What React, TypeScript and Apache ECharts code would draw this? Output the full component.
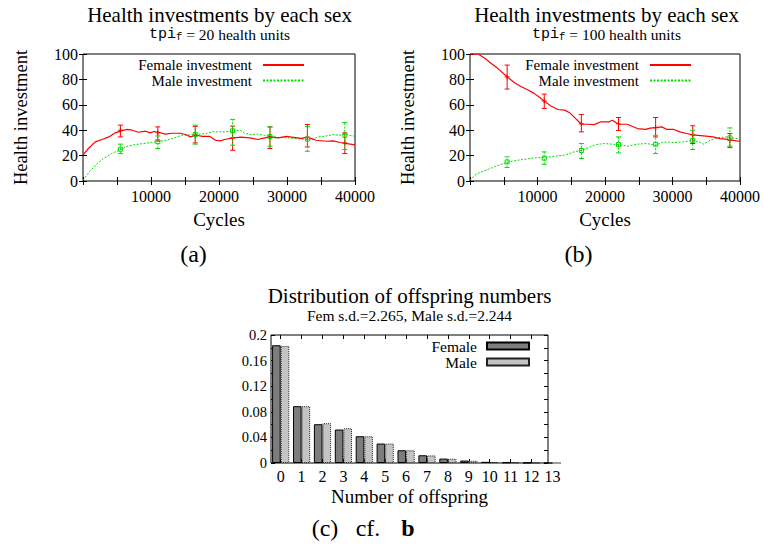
import React, { useEffect, useRef } from 'react';
import * as echarts from 'echarts';

// ---------- data ----------
const femaleA: [number, number][] = [
  [0, 20.3], [800, 25.6], [1800, 30.8], [2800, 32.7], [3800, 34.7], [4750, 37.9], [5600, 39.5], [6500, 40.6],
  [7200, 40], [8200, 38.4], [9200, 39.2], [9900, 37.9], [10400, 39], [11100, 38.4], [12100, 36.9], [13100, 37.6],
  [14300, 37.6], [15100, 36.6], [15800, 34.7], [16600, 36], [17600, 35.2], [18600, 35.2], [19500, 32.1], [20200, 31.6],
  [20800, 32.7], [22100, 34], [23300, 34.5], [24800, 33.7], [25700, 32.7], [26700, 34], [27500, 34.7], [28700, 34],
  [29900, 35.2], [31200, 34.2], [32100, 33.5], [33000, 34.5], [34300, 32.1], [35800, 31.3], [36800, 31.6],
  [37800, 30.3], [38800, 29.5], [39800, 28.7], [40000, 28.2],
];
const maleA: [number, number][] = [
  [0, 0.5], [1000, 7.7], [2000, 13.2], [3000, 17.7], [4200, 21.6], [5600, 25], [6500, 27.4], [7700, 28.7],
  [8900, 29.5], [10100, 30.5], [11100, 31.1], [12300, 32.1], [13300, 33.7], [14500, 36], [16600, 36.6], [18100, 37.4],
  [19100, 38.7], [20200, 38.7], [21000, 38.7], [22100, 39.5], [23100, 40], [23800, 37.4], [24800, 36.6], [25700, 36.9],
  [26700, 36], [27500, 35.2], [28900, 34.2], [30100, 34], [31600, 33.2], [33000, 32.7], [33800, 32.7], [34500, 34.7],
  [35500, 35.2], [36800, 36.6], [37800, 36], [38600, 36.9], [39600, 35.4], [40000, 35.4],
];
const femaleB: [number, number][] = [
  [0, 100], [1200, 100], [2200, 96.6], [3100, 92.7], [4100, 88.7], [5500, 82.1], [6600, 77.4], [7600, 74.2],
  [8600, 71.6], [9500, 69], [10200, 66.3], [11000, 62.9], [12000, 59], [13000, 56.3], [14000, 55.8], [14700, 54],
  [15400, 50.5], [16500, 44.7], [17400, 44.7], [18400, 44.4], [19400, 46.6], [20600, 46.6], [21100, 47.9],
  [21600, 46.1], [22100, 44.7], [23300, 44.7], [24800, 41.3], [26000, 40.6], [26700, 41.6], [27500, 42.1],
  [28400, 42.6], [29200, 40.6], [30200, 40.6], [31100, 38.7], [32100, 37.4], [33000, 36.3], [34600, 35.5],
  [36000, 34.7], [37000, 33.4], [38200, 32.7], [39500, 31.6], [40000, 31.3],
];
const maleB: [number, number][] = [
  [0, 0.5], [700, 4.5], [1600, 7.1], [2600, 9], [3600, 11.1], [4500, 12.9], [5500, 14.8], [7000, 16.3],
  [8500, 17.4], [10000, 18.4], [11000, 18.4], [12500, 19.5], [14000, 20.3], [15400, 22.9], [16500, 24.2],
  [17800, 26.8], [18700, 28.7], [19900, 29.5], [21100, 29], [22100, 28.7], [23300, 27.4], [24800, 29],
  [26200, 29.5], [27500, 28.2], [28700, 30.8], [30200, 30.3], [31600, 30.8], [33000, 32.1], [33900, 30.8],
  [34600, 29], [35600, 32.1], [36600, 34], [38100, 34.7], [38600, 34], [39600, 33.4], [40000, 32.1],
];

const errCycles = [5500, 11000, 16500, 22000, 27500, 33000, 38500];
const femaleAMean = [40, 38, 36, 34, 34.7, 34.5, 30];
const femaleALow = [34.7, 31.6, 30, 24.2, 25.6, 26.8, 21.6];
const femaleAHigh = [44, 42.6, 43, 43.2, 42.6, 44.5, 37.9];
const maleAMean = [25, 31, 36.6, 39.5, 35, 33, 36];
const maleALow = [21.6, 25.6, 29, 28.2, 27.4, 23.4, 24.8];
const maleAHigh = [29, 35.5, 44, 48.5, 42.6, 43, 46];
const femaleBMean = [82, 63, 45, 45, 42, 36.3, 32];
const femaleBLow = [72.4, 57.1, 38.7, 39.8, 34.7, 29.5, 26.3];
const femaleBHigh = [91.3, 68.4, 52.4, 50, 50, 43.5, 37.4];
const maleBMean = [15, 18, 24, 28.7, 29, 32, 34];
const maleBLow = [10.6, 13.2, 17.7, 22.1, 21.6, 24.8, 27.4];
const maleBHigh = [19, 22.9, 29.5, 34.7, 36, 40, 41.8];

const offspringLabels = ['0', '1', '2', '3', '4', '5', '6', '7', '8', '9', '10', '11', '12', '13'];
const femaleShare = [0.184, 0.0888, 0.0606, 0.0523, 0.0418, 0.0304, 0.0199, 0.0121, 0.0069, 0.0038, 0.0018, 0.001, 0.0004, 0];
const maleShare = [0.183, 0.0888, 0.0622, 0.0543, 0.0418, 0.0304, 0.0199, 0.0118, 0.0066, 0.0035, 0.0016, 0.0009, 0.0003, 0];

// ---------- styling ----------
const RED = '#ff0000';
const GREEN = '#00dd00';
const SERIF = 'Liberation Serif';
const MONO = 'Liberation Mono';

function errRows(mean: number[], low: number[], high: number[]) {
  return errCycles.map((x, i) => [x, mean[i], low[i], high[i]]);
}

function errRender(color: string, dashed: boolean, marker: 'plus' | 'square') {
  return (_params: any, api: any) => {
    const x = api.value(0);
    const c = api.coord([x, api.value(1)]);
    const lo = api.coord([x, api.value(2)]);
    const hi = api.coord([x, api.value(3)]);
    const cap = 2.5;
    const solid = { stroke: color, lineWidth: 1 };
    const children: any[] = [
      { type: 'line', shape: { x1: lo[0], y1: lo[1], x2: hi[0], y2: hi[1] }, style: { stroke: color, lineWidth: 1, lineDash: dashed ? [2, 1.5] : null } },
      { type: 'line', shape: { x1: lo[0] - cap, y1: lo[1], x2: lo[0] + cap, y2: lo[1] }, style: solid },
      { type: 'line', shape: { x1: hi[0] - cap, y1: hi[1], x2: hi[0] + cap, y2: hi[1] }, style: solid },
    ];
    if (marker === 'plus') {
      children.push({ type: 'line', shape: { x1: c[0] - 2.5, y1: c[1], x2: c[0] + 2.5, y2: c[1] }, style: solid });
      children.push({ type: 'line', shape: { x1: c[0], y1: c[1] - 2.5, x2: c[0], y2: c[1] + 2.5 }, style: solid });
    } else {
      children.push({ type: 'rect', shape: { x: c[0] - 2, y: c[1] - 2, width: 4, height: 4 }, style: { stroke: color, fill: 'none', lineWidth: 1 } });
    }
    return { type: 'group', children };
  };
}

const tickInside = (len = 4) => ({ show: true, inside: true, length: len, lineStyle: { color: '#000', width: 1 } });

function cycleAxes(gridIndex: number) {
  const base = {
    type: 'value', gridIndex, min: 0, max: 40000, interval: 5000,
    splitLine: { show: false }, axisLine: { show: false }, axisTick: tickInside(4),
  };
  return [
    {
      ...base, position: 'bottom',
      axisLabel: {
        show: true, margin: 7, fontFamily: SERIF, fontSize: 16, color: '#000', showMaxLabel: true,
        formatter: (v: number) => (v > 0 && v % 10000 === 0 ? String(v) : ''),
      },
      name: 'Cycles', nameLocation: 'middle', nameGap: 29,
      nameTextStyle: { fontFamily: SERIF, fontSize: 19, color: '#000' },
    },
    { ...base, position: 'top', axisLabel: { show: false } },
  ];
}

function investAxes(gridIndex: number) {
  const base = {
    type: 'value', gridIndex, min: 0, max: 100, interval: 20,
    splitLine: { show: false }, axisLine: { show: false }, axisTick: tickInside(4),
  };
  return [
    {
      ...base, position: 'left',
      axisLabel: { show: true, margin: 5, fontFamily: SERIF, fontSize: 16, color: '#000' },
      name: 'Health investment', nameLocation: 'middle', nameGap: 53,
      nameTextStyle: { fontFamily: SERIF, fontSize: 18.5, color: '#000' },
    },
    { ...base, position: 'right', axisLabel: { show: false } },
  ];
}

function titleTexts(cx: number, value: string) {
  return [
    {
      type: 'text', x: cx, y: 15,
      style: { text: 'Health investments by each sex', fontFamily: SERIF, fontSize: 21, lineHeight: 19, fill: '#000', align: 'center', verticalAlign: 'middle' },
    },
    {
      type: 'text', x: cx, y: 34,
      style: {
        text: `{m|tpi}{s|f}{r| = ${value} health units}`, align: 'center', verticalAlign: 'middle', fill: '#000',
        rich: {
          m: { fontFamily: MONO, fontSize: 15, lineHeight: 16, verticalAlign: 'middle', fill: '#000' },
          s: { fontFamily: MONO, fontSize: 10.5, lineHeight: 16, verticalAlign: 'bottom', fill: '#000' },
          r: { fontFamily: SERIF, fontSize: 15.5, lineHeight: 16, verticalAlign: 'middle', fill: '#000' },
        },
      },
    },
  ];
}

function caption(x: number, y: number, text: string, bold = false) {
  return {
    type: 'text', x, y,
    style: { text, fontFamily: SERIF, fontSize: 24, fontWeight: bold ? 'bold' : 'normal', fill: '#000', align: 'center', verticalAlign: 'middle' },
  };
}

function lineLegend(right: number) {
  return {
    data: ['Female investment', 'Male investment'], orient: 'vertical', align: 'right', right, top: 57.5,
    itemWidth: 41, itemHeight: 10, itemGap: 0.5, padding: 0, selectedMode: false,
    itemStyle: { opacity: 0 },
    textStyle: { fontFamily: SERIF, fontSize: 15, color: '#000', padding: [0, 6, 0, 0] },
  };
}

export default function App() {
  const ref = useRef<HTMLDivElement>(null);
  useEffect(() => {
    if (!ref.current) return;
    const chart = echarts.init(ref.current, undefined, { renderer: 'svg' });
    const frame = { show: true, borderColor: '#000', borderWidth: 1, backgroundColor: 'transparent' };
    const option: any = {
      animation: false,
      backgroundColor: '#fff',
      grid: [
        { left: 83, top: 54, width: 272, height: 127, ...frame },
        { left: 470, top: 54, width: 272, height: 127, ...frame },
        { left: 271, top: 335, width: 277, height: 128, ...frame },
        { left: 270.25, top: 335, width: 292.6, height: 128, show: false },
      ],
      xAxis: [
        ...cycleAxes(0),
        ...cycleAxes(1),
        {
          type: 'value', gridIndex: 2, min: 0, max: 1, position: 'bottom',
          axisLine: { show: false }, axisTick: { show: false }, axisLabel: { show: false }, splitLine: { show: false },
          name: 'Number of offspring', nameLocation: 'middle', nameGap: 24,
          nameTextStyle: { fontFamily: SERIF, fontSize: 19, color: '#000' },
        },
        {
          type: 'category', gridIndex: 3, data: offspringLabels, position: 'bottom',
          axisLine: { show: false },
          axisTick: { ...tickInside(4), alignWithLabel: true, interval: (i: number) => i < 13 },
          axisLabel: { margin: 5, fontFamily: SERIF, fontSize: 16, color: '#000', interval: 0 },
        },
        {
          type: 'category', gridIndex: 3, data: offspringLabels, position: 'top',
          axisLine: { show: false },
          axisTick: { ...tickInside(4), alignWithLabel: true, interval: (i: number) => i < 13 },
          axisLabel: { show: false },
        },
      ],
      yAxis: [
        ...investAxes(0),
        ...investAxes(1),
        {
          type: 'value', gridIndex: 2, min: 0, max: 0.2, interval: 0.04, position: 'left',
          axisLine: { show: false }, splitLine: { show: false }, axisTick: tickInside(4),
          minorTick: { show: true, splitNumber: 2, length: 4, lineStyle: { color: '#000' } },
          axisLabel: { margin: 4, fontFamily: SERIF, fontSize: 14.5, color: '#000' },
        },
        {
          type: 'value', gridIndex: 2, min: 0, max: 0.2, interval: 0.04, position: 'right',
          axisLine: { show: false }, splitLine: { show: false }, axisTick: tickInside(4),
          minorTick: { show: true, splitNumber: 2, length: 4, lineStyle: { color: '#000' } },
          axisLabel: { show: false },
        },
        {
          type: 'value', gridIndex: 3, min: 0, max: 0.2, show: false, splitLine: { show: false },
        },
      ],
      legend: [
        lineLegend(458),
        lineLegend(71),
        {
          data: ['Female', 'Male'], orient: 'vertical', align: 'right', right: 233, top: 338,
          itemWidth: 42, itemHeight: 7, itemGap: 0, padding: 0, icon: 'rect', selectedMode: false,
          textStyle: { fontFamily: SERIF, fontSize: 15.5, color: '#000', padding: [0, 5, 0, 0] },
        },
      ],
      series: [
        { type: 'line', name: 'Female investment', xAxisIndex: 0, yAxisIndex: 0, data: femaleA, symbol: 'none', showSymbol: false, lineStyle: { color: RED, width: 1.2 }, itemStyle: { color: RED }, z: 3 },
        { type: 'line', name: 'Male investment', xAxisIndex: 0, yAxisIndex: 0, data: maleA, symbol: 'none', showSymbol: false, lineStyle: { color: GREEN, width: 1, type: [2, 1.5] }, itemStyle: { color: GREEN }, z: 2 },
        { type: 'custom', name: 'fa_err', xAxisIndex: 0, yAxisIndex: 0, data: errRows(femaleAMean, femaleALow, femaleAHigh), encode: { x: 0, y: [1, 2, 3] }, renderItem: errRender(RED, false, 'plus'), z: 3, silent: true },
        { type: 'custom', name: 'ma_err', xAxisIndex: 0, yAxisIndex: 0, data: errRows(maleAMean, maleALow, maleAHigh), encode: { x: 0, y: [1, 2, 3] }, renderItem: errRender(GREEN, true, 'square'), z: 4, silent: true },

        { type: 'line', name: 'Female investment', xAxisIndex: 2, yAxisIndex: 2, data: femaleB, symbol: 'none', showSymbol: false, lineStyle: { color: RED, width: 1.2 }, itemStyle: { color: RED }, z: 3 },
        { type: 'line', name: 'Male investment', xAxisIndex: 2, yAxisIndex: 2, data: maleB, symbol: 'none', showSymbol: false, lineStyle: { color: GREEN, width: 1, type: [2, 1.5] }, itemStyle: { color: GREEN }, z: 2 },
        { type: 'custom', name: 'fb_err', xAxisIndex: 2, yAxisIndex: 2, data: errRows(femaleBMean, femaleBLow, femaleBHigh), encode: { x: 0, y: [1, 2, 3] }, renderItem: errRender(RED, false, 'plus'), z: 3, silent: true },
        { type: 'custom', name: 'mb_err', xAxisIndex: 2, yAxisIndex: 2, data: errRows(maleBMean, maleBLow, maleBHigh), encode: { x: 0, y: [1, 2, 3] }, renderItem: errRender(GREEN, true, 'square'), z: 4, silent: true },

        { type: 'bar', name: 'Female', xAxisIndex: 5, yAxisIndex: 6, data: femaleShare, barWidth: 8.6, barGap: '0%', itemStyle: { color: '#7d7d7d', borderColor: '#000', borderWidth: 1 } },
        { type: 'bar', name: 'Male', xAxisIndex: 5, yAxisIndex: 6, data: maleShare, barWidth: 8.6, barGap: '0%', itemStyle: { color: '#c4c4c4', borderColor: '#222', borderWidth: 1, borderType: 'dotted' } },
      ],
      graphic: [
        ...titleTexts(219.5, '20'),
        ...titleTexts(606.5, '100'),
        {
          type: 'text', x: 409.5, y: 295.5,
          style: { text: 'Distribution of offspring numbers', fontFamily: SERIF, fontSize: 21, lineHeight: 19, fill: '#000', align: 'center', verticalAlign: 'middle' },
        },
        {
          type: 'text', x: 409.5, y: 315,
          style: { text: 'Fem s.d.=2.265, Male s.d.=2.244', fontFamily: SERIF, fontSize: 15.5, lineHeight: 15, fill: '#000', align: 'center', verticalAlign: 'middle' },
        },
        caption(193.5, 254, '(a)'),
        caption(578.5, 254, '(b)'),
        caption(325, 528, '(c)'),
        caption(368, 528, 'cf.'),
        caption(408, 528, 'b', true),
      ],
    };
    chart.setOption(option);
    return () => chart.dispose();
  }, []);
  return (
    <div
      ref={ref}
      style={{ position: 'fixed', left: 0, top: 0, width: 763, height: 553, background: '#fff' }}
    />
  );
}
